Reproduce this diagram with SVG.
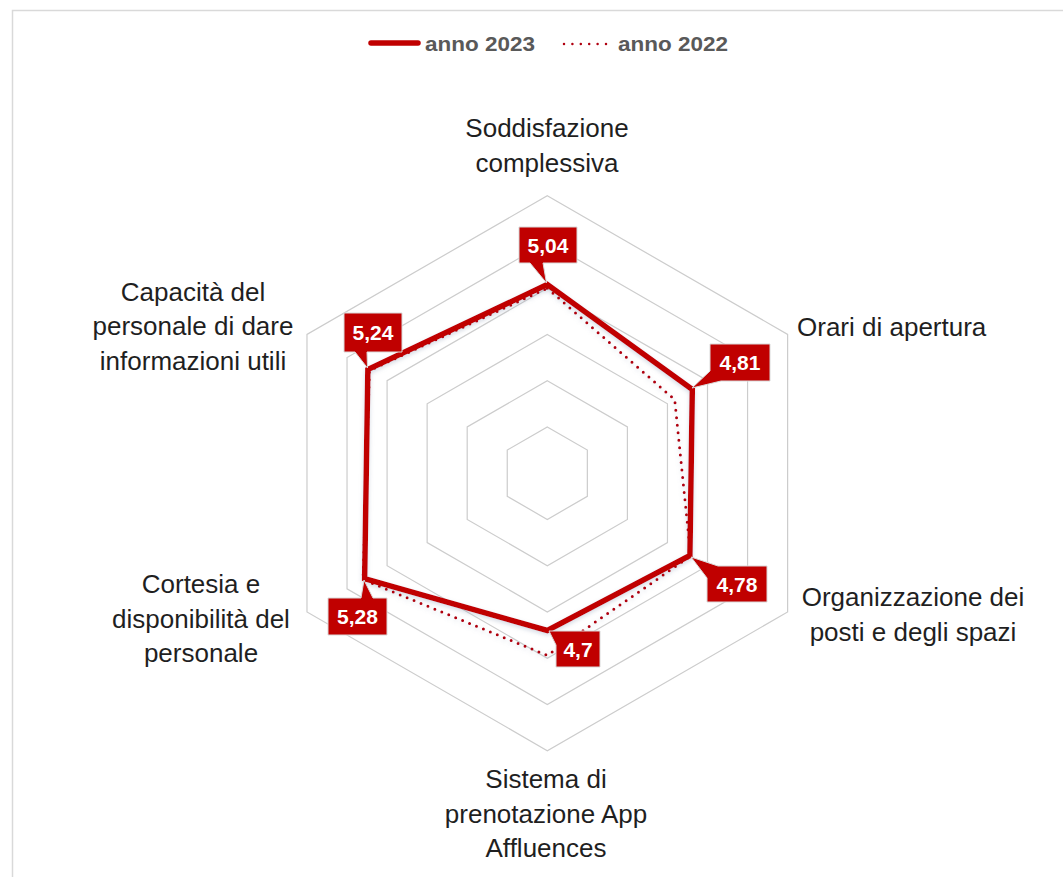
<svg xmlns="http://www.w3.org/2000/svg" width="1063" height="877" viewBox="0 0 1063 877">
<defs>
<style>
.grid{fill:none;stroke:#cccccc;stroke-width:1.2}
.cat{font-family:"Liberation Sans",Arial,sans-serif;font-size:26px;fill:#1f1f1f}
.lbl{font-family:"Liberation Sans",Arial,sans-serif;font-size:21px;font-weight:bold;fill:#ffffff;text-anchor:middle}
.leg{font-family:"Liberation Sans",Arial,sans-serif;font-size:20px;font-weight:bold;fill:#595959}
.box{fill:#c00000;stroke:#d9d9d9;stroke-width:1}
.s23{fill:none;stroke:#c00000;stroke-width:5.5;stroke-linejoin:miter}
.s22{fill:none;stroke:#b00010;stroke-width:3;stroke-linecap:round;stroke-dasharray:0 7.5}
</style>
<filter id="sh" x="-10%" y="-10%" width="120%" height="120%">
<feDropShadow dx="0" dy="2" stdDeviation="2" flood-color="#8596b0" flood-opacity="0.35"/>
</filter>
</defs>
<rect width="1063" height="877" fill="#ffffff"/>
<g id="frame" fill="none" stroke="#d9d9d9" stroke-width="1.5">
<polyline points="12.5,877 12.5,10.5 1063,10.5"/>
</g>
<g id="legend">
<line x1="371" y1="43" x2="418" y2="43" stroke="#c00000" stroke-width="5.5" stroke-linecap="round"/>
<text class="leg" x="425" y="51" textLength="110" lengthAdjust="spacingAndGlyphs">anno 2023</text>
<line x1="564" y1="44" x2="607" y2="44" class="s22" style="stroke-dasharray:0 8.4;stroke-width:2.5"/>
<text class="leg" x="618" y="51" textLength="110" lengthAdjust="spacingAndGlyphs">anno 2022</text>
</g>
<g id="grid">
<polygon class="grid" points="547.3,426.95 587.35,450.08 587.35,496.33 547.3,519.45 507.25,496.33 507.25,450.08"/>
<polygon class="grid" points="547.3,380.7 627.41,426.95 627.41,519.45 547.3,565.7 467.19,519.45 467.19,426.95"/>
<polygon class="grid" points="547.3,334.45 667.46,403.83 667.46,542.58 547.3,611.95 427.14,542.58 427.14,403.83"/>
<polygon class="grid" points="547.3,288.2 707.51,380.7 707.51,565.7 547.3,658.2 387.09,565.7 387.09,380.7"/>
<polygon class="grid" points="547.3,241.95 747.57,357.58 747.57,588.83 547.3,704.45 347.03,588.83 347.03,357.58"/>
<polygon class="grid" points="547.3,195.7 787.62,334.45 787.62,611.95 547.3,750.7 306.98,611.95 306.98,334.45"/>
</g>
<g id="series" filter="url(#sh)">
<polygon id="anno2022" class="s22" points="547.3,288.2 674.7,399.65 690.7,556 547.3,655.4 363.05,579.6 369.46,370.5"/>
<polygon id="anno2023" class="s23" points="547.3,284.5 692.3,389.5 689.9,555.5 547.3,630.45 364.65,578.65 367.86,369.6"/>
</g>
<g id="label-5-04">
<path class="box" d="M519,227 H577 V263 H543 L546.5,283 L530,263 H519 Z"/>
<text class="lbl" x="548" y="252.5">5,04</text>
</g>
<g id="label-4-81">
<path class="box" d="M710,344 H770 V381 H721 L692,388 L710,371 Z"/>
<text class="lbl" x="740" y="370">4,81</text>
</g>
<g id="label-4-78">
<path class="box" d="M718,566 H767 V602 H707 V578 L691,557 Z"/>
<text class="lbl" x="737" y="591.5">4,78</text>
</g>
<g id="label-4-7">
<path class="box" d="M565,631 H600 V667 H556 V645 L549,631 Z"/>
<text class="lbl" x="578" y="656.5">4,7</text>
</g>
<g id="label-5-28">
<path class="box" d="M328,598 H361 L364,580 L373,598 H387 V635 H328 Z"/>
<text class="lbl" x="357.5" y="623.5">5,28</text>
</g>
<g id="label-5-24">
<path class="box" d="M344,313 H402 V352 H367 L367.5,368 L355,352 H344 Z"/>
<text class="lbl" x="373" y="340">5,24</text>
</g>
<g id="cat-soddisfazione">
<text class="cat" text-anchor="middle" x="547" y="137">Soddisfazione</text>
<text class="cat" text-anchor="middle" x="547" y="172">complessiva</text>
</g>
<g id="cat-orari">
<text class="cat" x="797" y="336">Orari di apertura</text>
</g>
<g id="cat-organizzazione">
<text class="cat" text-anchor="middle" x="913" y="606">Organizzazione dei</text>
<text class="cat" text-anchor="middle" x="913" y="641">posti e degli spazi</text>
</g>
<g id="cat-sistema">
<text class="cat" text-anchor="middle" x="546" y="788">Sistema di</text>
<text class="cat" text-anchor="middle" x="546" y="823">prenotazione App</text>
<text class="cat" text-anchor="middle" x="546" y="857">Affluences</text>
</g>
<g id="cat-cortesia">
<text class="cat" text-anchor="middle" x="201" y="593">Cortesia e</text>
<text class="cat" text-anchor="middle" x="201" y="628">disponibilità del</text>
<text class="cat" text-anchor="middle" x="201" y="662">personale</text>
</g>
<g id="cat-capacita">
<text class="cat" text-anchor="middle" x="193" y="301">Capacità del</text>
<text class="cat" text-anchor="middle" x="193" y="335">personale di dare</text>
<text class="cat" text-anchor="middle" x="193" y="370">informazioni utili</text>
</g>
</svg>
